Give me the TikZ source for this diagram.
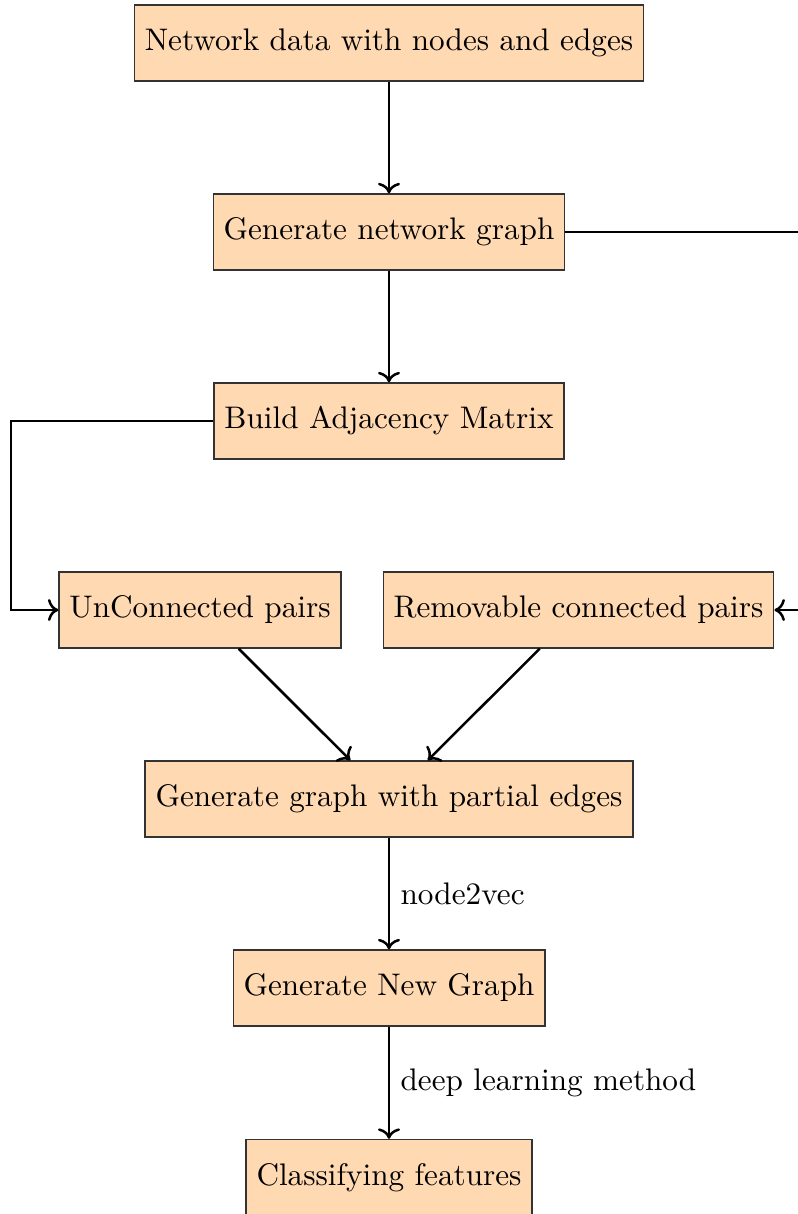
\documentclass[tikz,border=0pt]{standalone}
\usetikzlibrary{arrows.meta}
\begin{document}
\begin{tikzpicture}[
  x=0.3205pt, y=-0.3205pt,
  stepbox/.style={draw=black!80, fill=orange!30, minimum height=24.4pt, inner sep=0.3333em, font=\normalsize},
  flow/.style={->, thick},
  lbl/.style={font=\normalsize}
]
\clip (0,0) rectangle (798,1214);

% process boxes
\node[stepbox] (data)    at (389,43)  {Network data with nodes and edges};
\node[stepbox] (graph)   at (389,232) {Generate network graph};
\node[stepbox] (adj)     at (389,421) {Build Adjacency Matrix};
\node[stepbox] (unc)     at (200,610) {UnConnected pairs};
\node[stepbox] (rem)     at (578.5,610) {Removable connected pairs};
\node[stepbox] (partial) at (389,799) {Generate graph with partial edges};
\node[stepbox] (newg)    at (389,988) {Generate New Graph};
\node[stepbox] (cls)     at (389,1177.5) {Classifying features};

% routing points for the side connectors
\coordinate (lcorner) at (11,421);
\coordinate (rcorner) at (830,232);

% connectors
\draw[flow] (data) -- (graph);
\draw[flow] (graph) -- (adj);
\draw[flow] (adj.west) -- (lcorner) |- (unc.west);
\draw[flow] (graph.east) -- (rcorner) |- (rem.east);
\draw[flow] (unc) -- (partial);
\draw[flow] (rem) -- (partial);
\draw[flow] (partial) -- node[right, lbl] {node2vec} (newg);
\draw[flow] (newg) -- node[right, lbl] {deep learning method} (cls);
\end{tikzpicture}
\end{document}
